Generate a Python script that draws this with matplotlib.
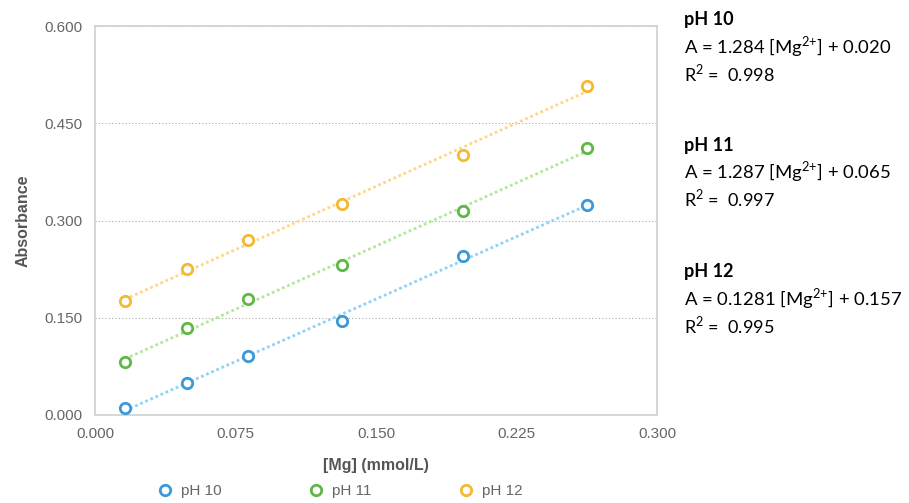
import numpy as np
import matplotlib.pyplot as plt

# Mg concentration (mmol/L) and absorbance readings
mg_conc = [0.016, 0.049, 0.0817, 0.132, 0.1965, 0.2627]
abs_ph10 = [0.011, 0.049, 0.091, 0.145, 0.245, 0.324]
abs_ph11 = [0.082, 0.134, 0.179, 0.231, 0.315, 0.412]
abs_ph12 = [0.176, 0.225, 0.270, 0.326, 0.401, 0.508]

series_names = ['pH 10', 'pH 11', 'pH 12']
marker_colors = ['#3a9ad9', '#5fb845', '#f6b732']
trend_colors = ['#8fd3f7', '#b1e89a', '#ffd68a']

x_ticks = [0.000, 0.075, 0.150, 0.225, 0.300]
y_ticks = [0.000, 0.150, 0.300, 0.450, 0.600]

eq_blocks = [
    ('pH 10', r'A = 1.284 [Mg$^{2{+}}$] + 0.020', r'R$^{2}$ =  0.998'),
    ('pH 11', r'A = 1.287 [Mg$^{2{+}}$] + 0.065', r'R$^{2}$ =  0.997'),
    ('pH 12', r'A = 0.1281 [Mg$^{2{+}}$] + 0.157', r'R$^{2}$ =  0.995'),
]

plt.rcParams['font.family'] = ['Liberation Sans', 'DejaVu Sans']
plt.rcParams['mathtext.fontset'] = 'custom'
plt.rcParams['mathtext.rm'] = 'Lato'

fig = plt.figure(figsize=(9.09, 5.03), dpi=100)
ax = fig.add_axes([0.1045, 0.175, 0.6183, 0.773])

x = np.array(mg_conc)
for ys, name, mc, tc in zip([abs_ph10, abs_ph11, abs_ph12], series_names, marker_colors, trend_colors):
    slope, icpt = np.polyfit(x, ys, 1)
    xs = np.array([x[0], x[-1]])
    ax.plot(xs, slope * xs + icpt, ls=(0, (1, 1)), lw=2.0, color=tc, zorder=2)
    ax.plot(x, ys, 'o', ms=10.5, mfc='white', mec=mc, mew=2.4, label=name, zorder=3)

ax.set_xlim(0, 0.3)
ax.set_ylim(0, 0.6)
ax.set_xticks(x_ticks)
ax.set_yticks(y_ticks)
ax.set_xticklabels(['%.3f' % v for v in x_ticks])
ax.set_yticklabels(['%.3f' % v for v in y_ticks])
ax.tick_params(length=0, labelsize=11, colors='#666666', pad=9)
ax.yaxis.grid(True, ls=(0, (1, 2)), color='#aaaaaa', lw=0.8)
ax.set_axisbelow(True)
for sp in ax.spines.values():
    sp.set_color('#d0d0d0')
    sp.set_linewidth(1.2)

ax.set_xlabel('[Mg] (mmol/L)', fontsize=11.5, fontweight='bold', color='#555555', labelpad=12)
ax.set_ylabel('Absorbance', fontsize=11.5, fontweight='bold', color='#555555', labelpad=10)

handles, labels = ax.get_legend_handles_labels()
for h in handles:
    h.set_markersize(7.5)
    h.set_markeredgewidth(2)
leg = fig.legend(handles, labels, loc='lower center', bbox_to_anchor=(0.374, -0.018), ncol=3,
                 frameon=False, fontsize=11, columnspacing=5.7, handletextpad=0.55, handlelength=1)
for t in leg.get_texts():
    t.set_color('#666666')

# regression equations on the right
block_tops = [20, 145, 272]
for (title, eq, r2), top in zip(eq_blocks, block_tops):
    y0 = 1 - top / 503
    fig.text(684 / 909, y0, title, fontsize=13, fontweight='bold', family='Lato', va='center')
    fig.text(684 / 909, y0 - 27 / 503, eq, fontsize=13.3, family='Lato', va='center')
    fig.text(684 / 909, y0 - 53 / 503, r2, fontsize=13, family='Lato', va='center')

fig.savefig('out.png', dpi=100)
